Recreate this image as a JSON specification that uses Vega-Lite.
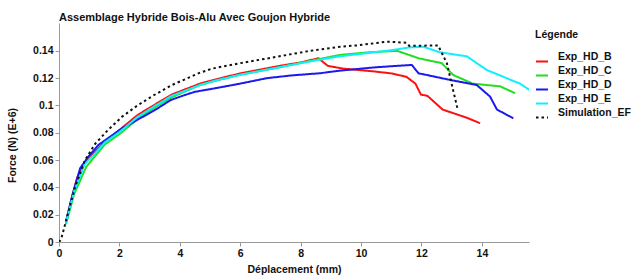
{
  "$schema": "https://vega.github.io/schema/vega-lite/v6.json",
  "width": 470,
  "height": 219,
  "autosize": "none",
  "padding": {"left": 59, "top": 23, "right": 106, "bottom": 36},
  "background": "white",
  "config": {"view": {"stroke": null}, "font": "Liberation Sans"},
  "title": {"text": "Assemblage Hybride Bois-Alu Avec Goujon Hybride", "anchor": "start", "frame": "group", "fontSize": 11, "fontWeight": "bold", "font": "Liberation Sans", "color": "#111", "offset": 3, "baseline": "bottom", "dy": 14},
  "data": {"values": [
    {"s":"Exp_HD_B","x":0.23,"y":0.014},{"s":"Exp_HD_B","x":0.4,"y":0.03},{"s":"Exp_HD_B","x":0.6,"y":0.047},{"s":"Exp_HD_B","x":0.8,"y":0.056},{"s":"Exp_HD_B","x":1.0,"y":0.062},{"s":"Exp_HD_B","x":1.5,"y":0.073},{"s":"Exp_HD_B","x":2.0,"y":0.082},{"s":"Exp_HD_B","x":2.6,"y":0.093},{"s":"Exp_HD_B","x":3.2,"y":0.101},{"s":"Exp_HD_B","x":3.73,"y":0.108},{"s":"Exp_HD_B","x":4.67,"y":0.116},{"s":"Exp_HD_B","x":5.17,"y":0.119},{"s":"Exp_HD_B","x":6.0,"y":0.1235},{"s":"Exp_HD_B","x":7.3,"y":0.129},{"s":"Exp_HD_B","x":8.0,"y":0.1315},{"s":"Exp_HD_B","x":8.59,"y":0.1346},{"s":"Exp_HD_B","x":8.9,"y":0.129},{"s":"Exp_HD_B","x":9.4,"y":0.127},{"s":"Exp_HD_B","x":10.4,"y":0.125},{"s":"Exp_HD_B","x":11.0,"y":0.1235},{"s":"Exp_HD_B","x":11.5,"y":0.121},{"s":"Exp_HD_B","x":11.8,"y":0.116},{"s":"Exp_HD_B","x":11.98,"y":0.108},{"s":"Exp_HD_B","x":12.2,"y":0.107},{"s":"Exp_HD_B","x":12.7,"y":0.097},{"s":"Exp_HD_B","x":13.1,"y":0.094},{"s":"Exp_HD_B","x":13.5,"y":0.091},{"s":"Exp_HD_B","x":13.94,"y":0.087},
    {"s":"Exp_HD_C","x":0.23,"y":0.013},{"s":"Exp_HD_C","x":0.5,"y":0.035},{"s":"Exp_HD_C","x":0.9,"y":0.055},{"s":"Exp_HD_C","x":1.2,"y":0.063},{"s":"Exp_HD_C","x":1.52,"y":0.0715},{"s":"Exp_HD_C","x":2.0,"y":0.079},{"s":"Exp_HD_C","x":2.6,"y":0.09},{"s":"Exp_HD_C","x":3.2,"y":0.099},{"s":"Exp_HD_C","x":3.73,"y":0.106},{"s":"Exp_HD_C","x":4.67,"y":0.115},{"s":"Exp_HD_C","x":5.17,"y":0.118},{"s":"Exp_HD_C","x":6.0,"y":0.1225},{"s":"Exp_HD_C","x":7.3,"y":0.128},{"s":"Exp_HD_C","x":8.5,"y":0.1335},{"s":"Exp_HD_C","x":9.3,"y":0.137},{"s":"Exp_HD_C","x":10.3,"y":0.139},{"s":"Exp_HD_C","x":11.2,"y":0.14},{"s":"Exp_HD_C","x":11.9,"y":0.1346},{"s":"Exp_HD_C","x":12.67,"y":0.131},{"s":"Exp_HD_C","x":13.05,"y":0.1223},{"s":"Exp_HD_C","x":13.7,"y":0.116},{"s":"Exp_HD_C","x":14.6,"y":0.114},{"s":"Exp_HD_C","x":15.1,"y":0.109},
    {"s":"Exp_HD_D","x":0.23,"y":0.015},{"s":"Exp_HD_D","x":0.45,"y":0.035},{"s":"Exp_HD_D","x":0.7,"y":0.054},{"s":"Exp_HD_D","x":0.97,"y":0.0625},{"s":"Exp_HD_D","x":1.3,"y":0.071},{"s":"Exp_HD_D","x":2.07,"y":0.083},{"s":"Exp_HD_D","x":3.18,"y":0.0967},{"s":"Exp_HD_D","x":3.7,"y":0.104},{"s":"Exp_HD_D","x":4.17,"y":0.1077},{"s":"Exp_HD_D","x":4.5,"y":0.11},{"s":"Exp_HD_D","x":5.17,"y":0.1126},{"s":"Exp_HD_D","x":6.0,"y":0.116},{"s":"Exp_HD_D","x":6.88,"y":0.12},{"s":"Exp_HD_D","x":7.7,"y":0.122},{"s":"Exp_HD_D","x":8.64,"y":0.1236},{"s":"Exp_HD_D","x":9.3,"y":0.1255},{"s":"Exp_HD_D","x":10.5,"y":0.128},{"s":"Exp_HD_D","x":11.68,"y":0.1297},{"s":"Exp_HD_D","x":11.9,"y":0.1236},{"s":"Exp_HD_D","x":12.95,"y":0.1187},{"s":"Exp_HD_D","x":13.83,"y":0.115},{"s":"Exp_HD_D","x":14.27,"y":0.1065},{"s":"Exp_HD_D","x":14.5,"y":0.097},{"s":"Exp_HD_D","x":15.04,"y":0.0906},
    {"s":"Exp_HD_E","x":0.23,"y":0.014},{"s":"Exp_HD_E","x":0.5,"y":0.037},{"s":"Exp_HD_E","x":0.85,"y":0.057},{"s":"Exp_HD_E","x":1.2,"y":0.065},{"s":"Exp_HD_E","x":1.52,"y":0.073},{"s":"Exp_HD_E","x":2.0,"y":0.0805},{"s":"Exp_HD_E","x":2.6,"y":0.0915},{"s":"Exp_HD_E","x":3.2,"y":0.1},{"s":"Exp_HD_E","x":3.73,"y":0.107},{"s":"Exp_HD_E","x":4.67,"y":0.115},{"s":"Exp_HD_E","x":5.17,"y":0.1182},{"s":"Exp_HD_E","x":6.0,"y":0.1225},{"s":"Exp_HD_E","x":7.3,"y":0.128},{"s":"Exp_HD_E","x":8.5,"y":0.133},{"s":"Exp_HD_E","x":9.3,"y":0.136},{"s":"Exp_HD_E","x":9.97,"y":0.1377},{"s":"Exp_HD_E","x":11.0,"y":0.1405},{"s":"Exp_HD_E","x":11.6,"y":0.1425},{"s":"Exp_HD_E","x":12.06,"y":0.143},{"s":"Exp_HD_E","x":12.6,"y":0.139},{"s":"Exp_HD_E","x":13.5,"y":0.136},{"s":"Exp_HD_E","x":14.16,"y":0.126},{"s":"Exp_HD_E","x":15.26,"y":0.116},{"s":"Exp_HD_E","x":15.6,"y":0.111},
    {"s":"Simulation_EF","x":0.0,"y":0.0},{"s":"Simulation_EF","x":0.07,"y":0.002},{"s":"Simulation_EF","x":0.53,"y":0.04},{"s":"Simulation_EF","x":0.86,"y":0.06},{"s":"Simulation_EF","x":1.2,"y":0.072},{"s":"Simulation_EF","x":1.62,"y":0.082},{"s":"Simulation_EF","x":2.1,"y":0.092},{"s":"Simulation_EF","x":2.6,"y":0.1},{"s":"Simulation_EF","x":3.1,"y":0.107},{"s":"Simulation_EF","x":3.74,"y":0.115},{"s":"Simulation_EF","x":4.67,"y":0.124},{"s":"Simulation_EF","x":5.07,"y":0.127},{"s":"Simulation_EF","x":6.0,"y":0.131},{"s":"Simulation_EF","x":7.3,"y":0.136},{"s":"Simulation_EF","x":8.3,"y":0.14},{"s":"Simulation_EF","x":9.3,"y":0.143},{"s":"Simulation_EF","x":9.87,"y":0.144},{"s":"Simulation_EF","x":10.85,"y":0.1467},{"s":"Simulation_EF","x":11.5,"y":0.146},{"s":"Simulation_EF","x":11.6,"y":0.1436},{"s":"Simulation_EF","x":12.55,"y":0.144},{"s":"Simulation_EF","x":12.84,"y":0.131},{"s":"Simulation_EF","x":13.05,"y":0.111},{"s":"Simulation_EF","x":13.2,"y":0.097}
  ]},
  "mark": {"type": "line", "strokeWidth": 2, "clip": true},
  "encoding": {
    "x": {"field": "x", "type": "quantitative", "scale": {"domain": [0, 15.56], "nice": false},
      "axis": {"values": [0,2,4,6,8,10,12,14], "grid": false, "title": "Déplacement (mm)", "titleFont": "Liberation Sans", "titleFontSize": 10.5, "titleFontWeight": "bold", "titleColor": "#111", "titlePadding": 6,
        "labelFont": "Liberation Sans", "labelFontSize": 10.5, "labelFontWeight": "bold", "labelColor": "#111", "labelPadding": 2, "domainColor": "#999", "tickColor": "#999", "tickSize": 4, "labelFlush": false}},
    "y": {"field": "y", "type": "quantitative", "scale": {"domain": [0, 0.1604], "nice": false},
      "axis": {"values": [0,0.02,0.04,0.06,0.08,0.1,0.12,0.14], "format": "~g", "grid": false, "title": "Force (N) (E+6)", "titleFont": "Liberation Sans", "titleFontSize": 10.5, "titleFontWeight": "bold", "titleColor": "#111", "titleY": 122, "titleX": -42, "titleAlign": "center", "titleAngle": -90, "titleBaseline": "bottom",
        "labelFont": "Liberation Sans", "labelFontSize": 10.5, "labelFontWeight": "bold", "labelColor": "#111", "labelPadding": 2, "domainColor": "#999", "tickColor": "#999", "tickSize": 4, "labelFlush": false}},
    "color": {"field": "s", "type": "nominal", "scale": {"domain": ["Exp_HD_B","Exp_HD_C","Exp_HD_D","Exp_HD_E","Simulation_EF"], "range": ["#ff1010","#22dd22","#1a1aee","#11eeff","#111111"]},
      "legend": {"title": "Légende", "orient": "none", "legendX": 476, "legendY": 7, "titleFont": "Liberation Sans", "titleFontSize": 10.5, "titleFontWeight": "bold", "titleColor": "#111", "titlePadding": 14,
        "labelFont": "Liberation Sans", "labelFontSize": 10.5, "labelFontWeight": "bold", "labelColor": "#111", "labelOffset": 9, "labelBaseline": "bottom", "symbolType": "stroke", "symbolSize": 144, "symbolStrokeWidth": 2, "rowPadding": 0}},
    "strokeDash": {"field": "s", "type": "nominal", "scale": {"domain": ["Exp_HD_B","Exp_HD_C","Exp_HD_D","Exp_HD_E","Simulation_EF"], "range": [[1,0],[1,0],[1,0],[1,0],[2.5,3]]},
      "legend": {"title": "Légende", "orient": "none", "legendX": 476, "legendY": 7}},
    "strokeWidth": {"condition": {"test": "datum.s === 'Simulation_EF'", "value": 2.5}, "value": 2}
  }
}
